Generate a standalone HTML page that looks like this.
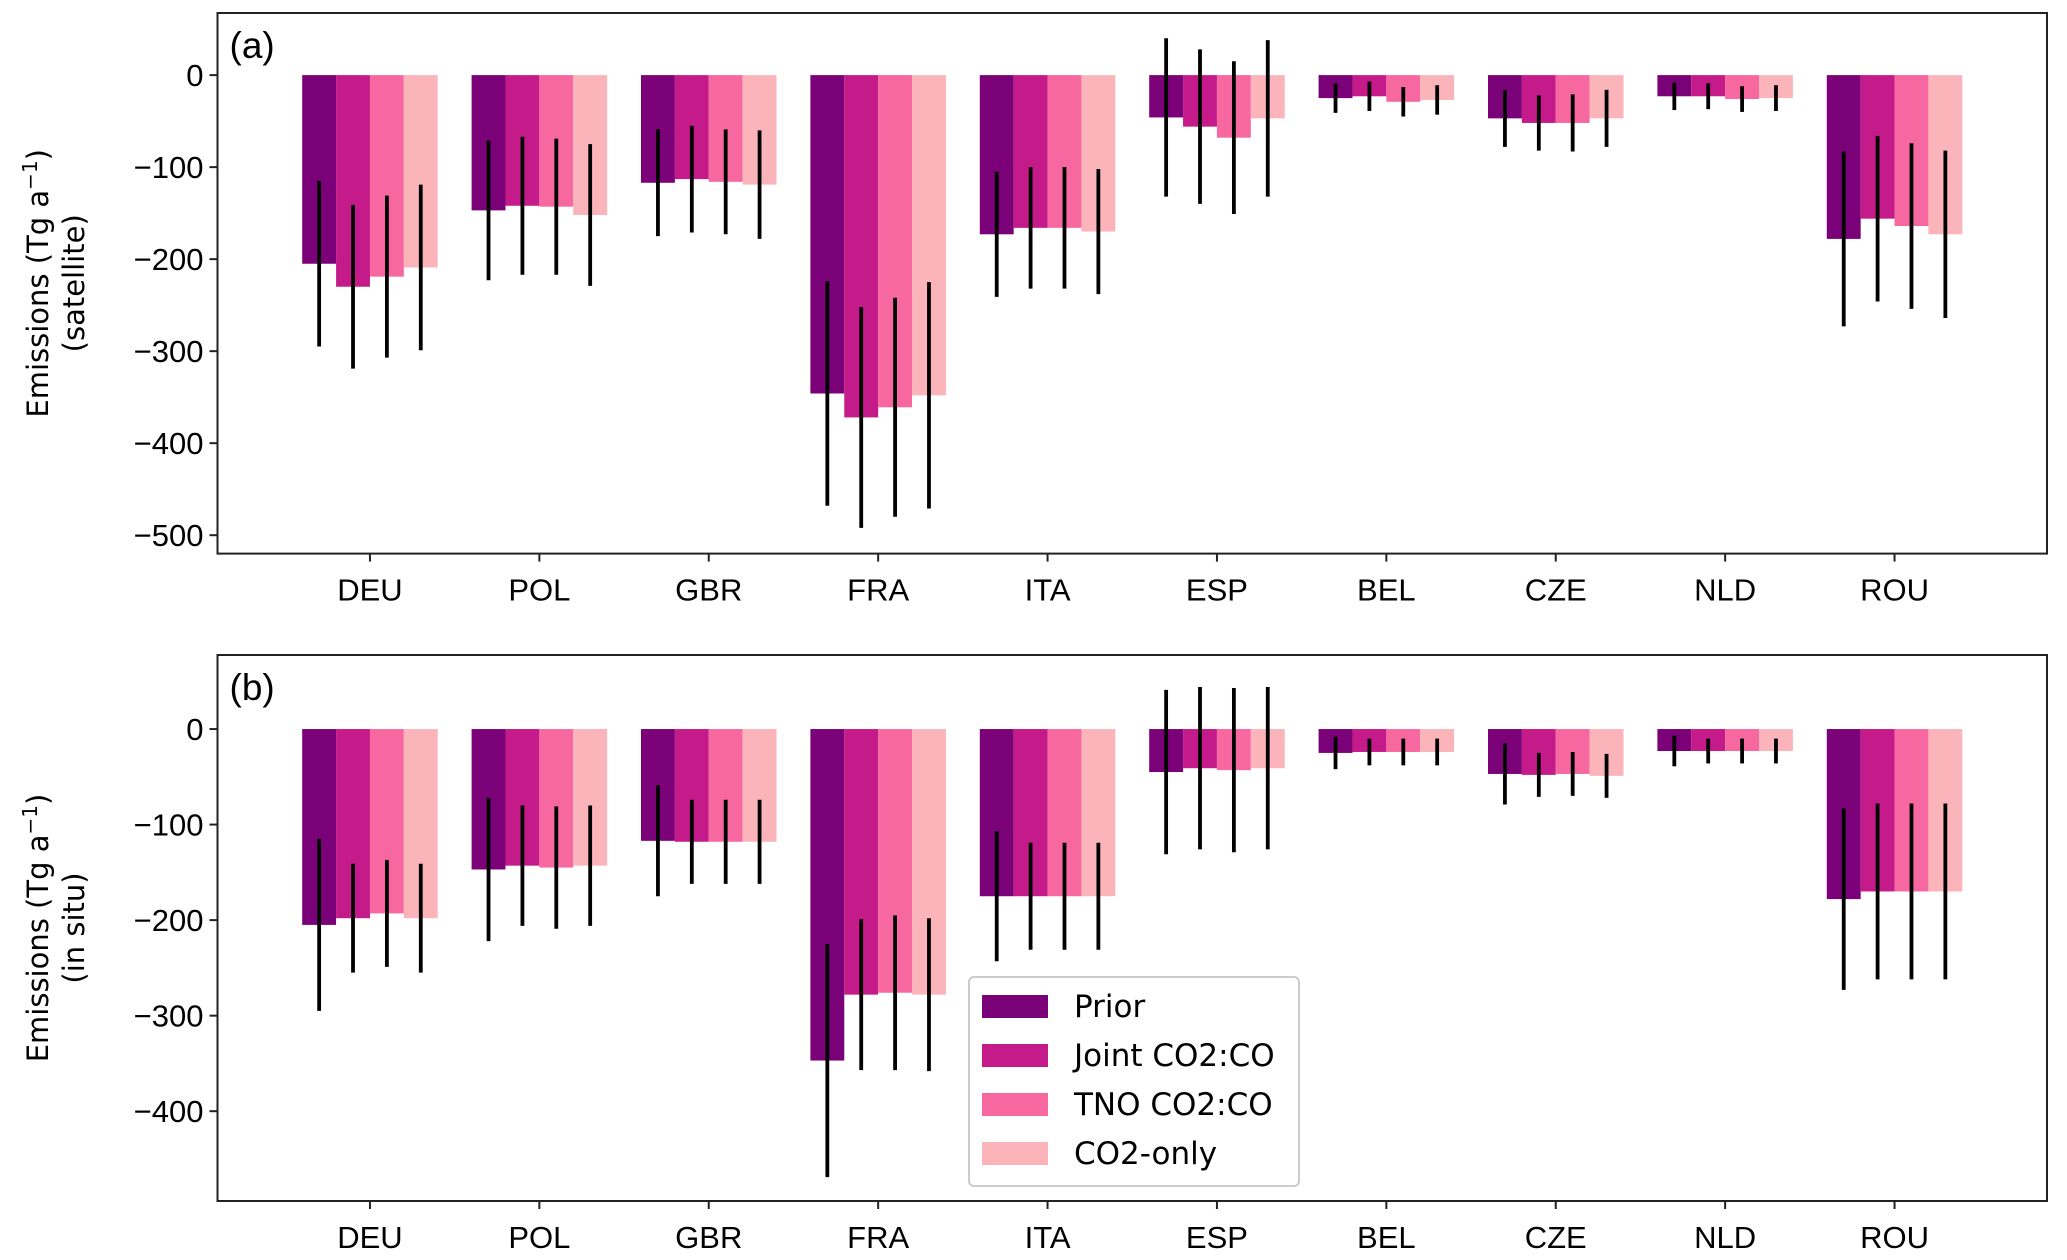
<!DOCTYPE html>
<html><head><meta charset="utf-8"><style>
html,body{margin:0;padding:0;background:#fff;}
svg{display:block;}
.tick{font-family:"Liberation Sans",sans-serif;font-size:31px;fill:#000;}
.lab{font-family:"DejaVu Sans","Liberation Sans",sans-serif;font-size:29px;fill:#000;}
</style></head><body>
<svg id="chart" width="2067" height="1260" viewBox="0 0 2067 1260" xmlns="http://www.w3.org/2000/svg"></svg>
<script>
const countries = ["DEU","POL","GBR","FRA","ITA","ESP","BEL","CZE","NLD","ROU"];
const seriesNames = ["Prior","Joint CO2:CO","TNO CO2:CO","CO2-only"];
const colors = ["#7a0177","#c51b8a","#f768a1","#fbb4b9"];
// panel a (satellite)
const aPrior = [-205,-147,-117,-346,-173,-46,-25,-47,-23,-178];
const aJoint = [-230,-142,-113,-372,-166,-56,-23,-52,-23,-156];
const aTno   = [-219,-143,-116,-361,-166,-68,-29,-52,-26,-164];
const aCo2   = [-209,-152,-119,-348,-170,-47,-27,-47,-25,-173];
const aPriorErr = [90,76,58,122,68,86,16,31,15,95];
const aJointErr = [89,75,58,120,66,84,16,30,14,90];
const aTnoErr   = [88,74,57,119,66,83,16,31,14,90];
const aCo2Err   = [90,77,59,123,68,85,16,31,14,91];
// panel b (in situ)
const bPrior = [-205,-147,-117,-347,-175,-45,-25,-47,-23,-178];
const bJoint = [-198,-143,-118,-278,-175,-41,-24,-48,-23,-170];
const bTno   = [-193,-145,-118,-276,-175,-43,-24,-47,-23,-170];
const bCo2   = [-198,-143,-118,-278,-175,-41,-24,-49,-23,-170];
const bPriorErr = [90,75,58,122,68,86,17,32,16,95];
const bJointErr = [57,63,44,79,56,85,14,23,13,92];
const bTnoErr   = [56,64,44,81,56,86,14,23,13,92];
const bCo2Err   = [57,63,44,80,56,85,14,23,13,92];
const aTicks = [0,-100,-200,-300,-400,-500];
const bTicks = [0,-100,-200,-300,-400];

const NS="http://www.w3.org/2000/svg";
const svg=document.getElementById('chart');
function mk(tag,attrs,parent){const e=document.createElementNS(NS,tag);for(const k in attrs)e.setAttribute(k,attrs[k]);(parent||svg).appendChild(e);return e;}

function panel(cfg){
  const g=mk('g',{});
  
  
  const L=217.5,R=2047,T=cfg.top,B=cfg.bottom;
  const x=v=>L+(v-(-0.9))/(9.9-(-0.9))*(R-L);
  const y=v=>T+(cfg.ymax-v)/(cfg.ymax-cfg.ymin)*(B-T);
  const offs=[-0.3,-0.1,0.1,0.3];
  cfg.series.forEach((vals,s)=>{
    vals.forEach((v,i)=>{
      const xc=x(i+offs[s]);const w=x(0.2)-x(0);
      const r=mk('rect',{x:xc-w/2,y:Math.min(y(0),y(v)),width:w,height:Math.abs(y(v)-y(0)),fill:colors[s]},g);
      
      
    });
  });
  cfg.series.forEach((vals,s)=>{
    vals.forEach((v,i)=>{
      const xc=x(i+offs[s]);const e=cfg.errs[s][i];
      const l=mk('line',{x1:xc,x2:xc,y1:y(v+e),y2:y(v-e),stroke:'#000','stroke-width':3.8},g);
      
      
    });
  });
  const fr=mk('rect',{x:L,y:T,width:R-L,height:B-T,fill:'none',stroke:'#222','stroke-width':2},g);
  
  
  cfg.ticks.forEach(t=>{
    mk('line',{x1:L-8,x2:L,y1:y(t),y2:y(t),stroke:'#222','stroke-width':2},g);
    const tx=mk('text',{x:L-14,y:y(t)+11,'text-anchor':'end',class:'tick'},g);
    tx.textContent=t===0?'0':'\u2212'+Math.abs(t);
    
    
  });
  countries.forEach((c,i)=>{
    mk('line',{x1:x(i),x2:x(i),y1:B,y2:B+8,stroke:'#222','stroke-width':2},g);
    const tx=mk('text',{x:x(i),y:B+47,'text-anchor':'middle',class:'tick'},g);
    tx.textContent=c;
    
    
  });
  const pl=mk('text',{x:L+12,y:T+45,class:'tick',style:'font-size:37px'},g);
  pl.textContent=cfg.label;
  
  
  const cy=(T+B)/2;
  const yl=mk('text',{transform:`translate(48,${cy}) rotate(-90)`,'text-anchor':'middle',class:'lab'},g);
  yl.innerHTML='Emissions (Tg a<tspan dy="-11" font-size="20">\u22121</tspan><tspan dy="11">)</tspan>';
  
  
  const yl2=mk('text',{transform:`translate(84,${cy}) rotate(-90)`,'text-anchor':'middle',class:'lab'},g);
  yl2.textContent=cfg.sub;
  
  
}
panel({name:'panel-a-satellite',top:13,bottom:553.6,ymax:67.5,ymin:-520,ticks:aTicks,label:'(a)',sub:'(satellite)',
  series:[aPrior,aJoint,aTno,aCo2],errs:[aPriorErr,aJointErr,aTnoErr,aCo2Err]});
panel({name:'panel-b-in-situ',top:655,bottom:1201,ymax:77.5,ymin:-494,ticks:bTicks,label:'(b)',sub:'(in situ)',
  series:[bPrior,bJoint,bTno,bCo2],errs:[bPriorErr,bJointErr,bTnoErr,bCo2Err]});

const lg=mk('g',{});


mk('rect',{x:969,y:977,width:330,height:209,rx:5,fill:'#fff','fill-opacity':0.85,stroke:'#ccc','stroke-width':2},lg);
seriesNames.forEach((n,i)=>{
  const cy=1006+i*49;
  const p=mk('rect',{x:982,y:cy-11,width:66,height:23,fill:colors[i]},lg);
  
  
  const t=mk('text',{x:1074,y:cy+11,class:'lab',style:'font-size:31px'},lg);
  t.textContent=n;
  
  
});
</script>
</body></html>
